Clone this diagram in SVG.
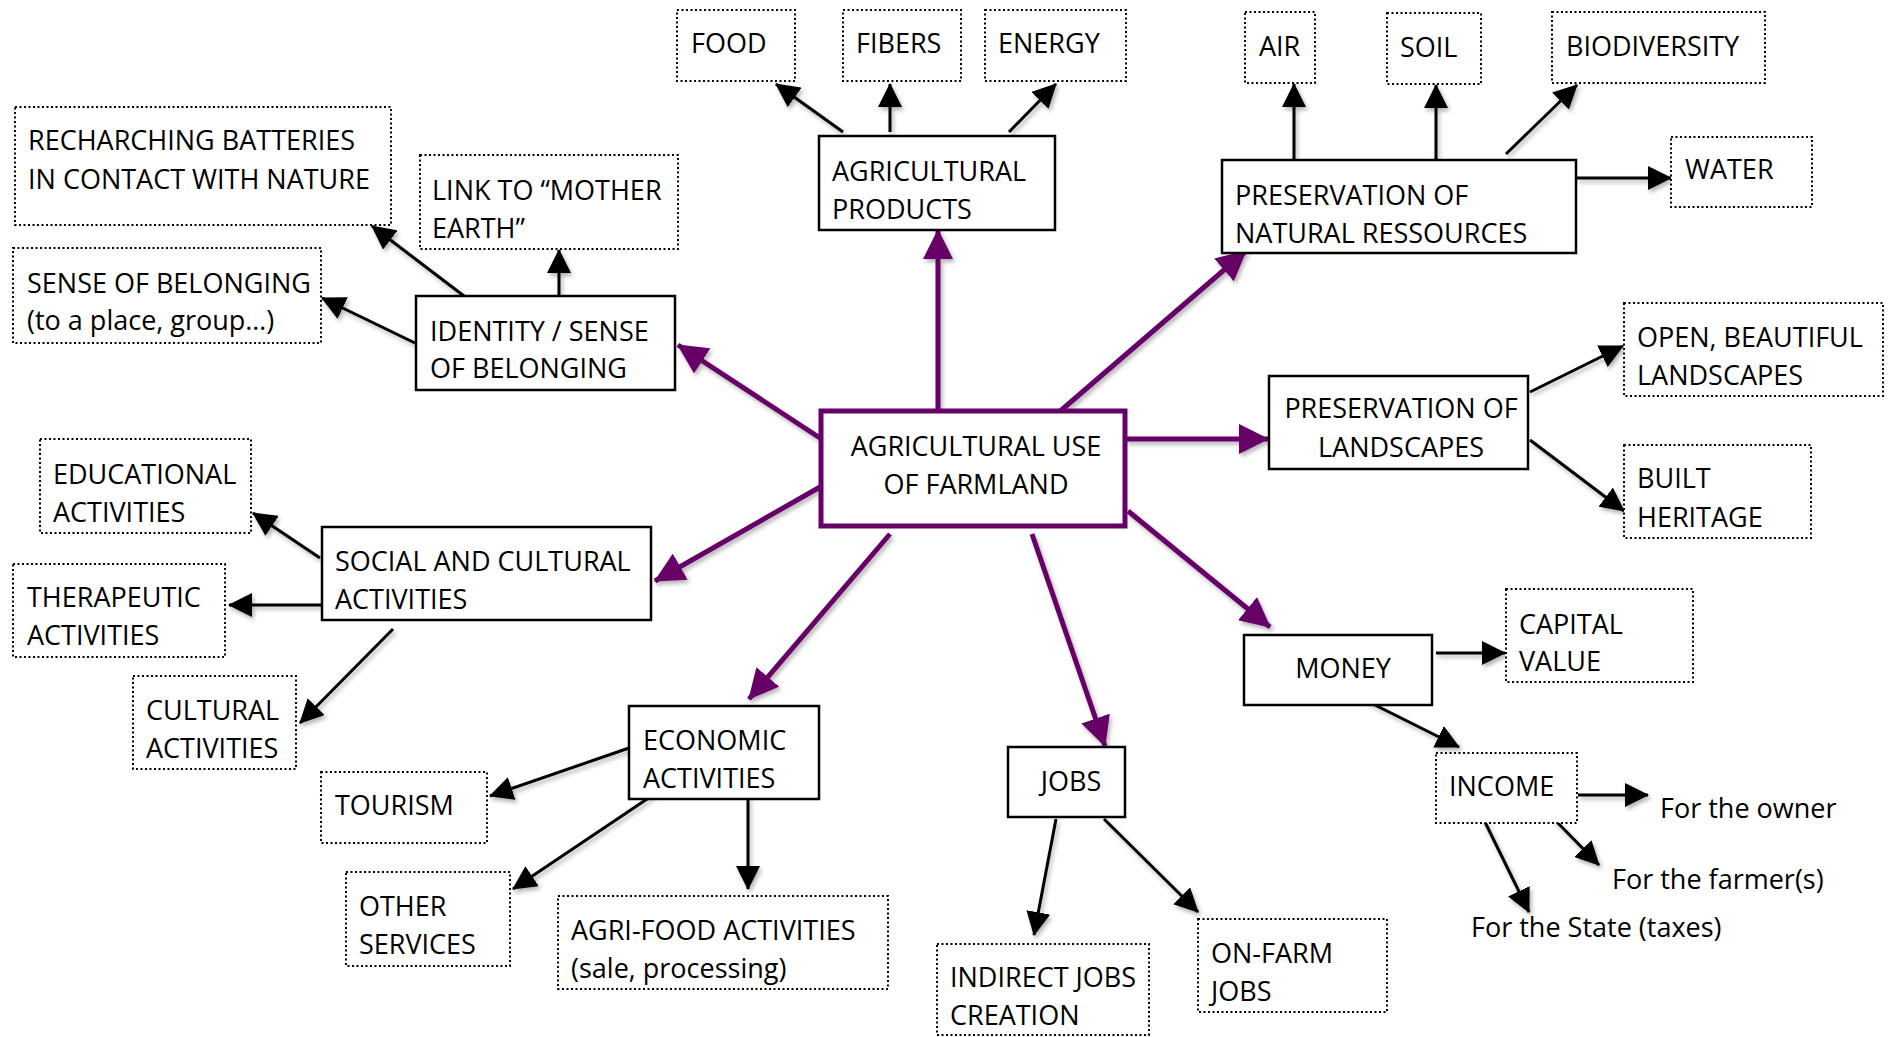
<svg xmlns="http://www.w3.org/2000/svg" width="1889" height="1037" viewBox="0 0 1889 1037">
<style>
text{font-family:"Open Sans","Liberation Sans",sans-serif;font-size:27px;fill:#000}
.s{fill:#fff;stroke:#000;stroke-width:2.5}
.d{fill:#fff;stroke:#000;stroke-width:2;stroke-dasharray:2 2.5}
.c{fill:#fff;stroke:#660066;stroke-width:5}
.k{stroke:#000;stroke-width:3;fill:none;marker-end:url(#ak)}
.p{stroke:#660066;stroke-width:5;fill:none;marker-end:url(#ap)}
.m{text-anchor:middle}
</style>
<defs>
<marker id="ak" markerUnits="userSpaceOnUse" markerWidth="24" markerHeight="24" refX="23" refY="12" orient="auto" viewBox="0 0 24 24"><path d="M0,0 L24,12 L0,24 z" fill="#000"/></marker>
<marker id="ap" markerUnits="userSpaceOnUse" markerWidth="30" markerHeight="30" refX="29" refY="15" orient="auto" viewBox="0 0 30 30"><path d="M0,0 L30,15 L0,30 z" fill="#660066"/></marker>
<filter id="sh" x="-20%" y="-20%" width="140%" height="140%"><feDropShadow dx="2" dy="3" stdDeviation="2" flood-color="#000" flood-opacity="0.3"/></filter>
</defs>
<rect width="1889" height="1037" fill="#fff"/>
<g id="connectors" filter="url(#sh)">
<line class="k" x1="843" y1="132" x2="776" y2="84"/>
<line class="k" x1="890" y1="132" x2="890" y2="84"/>
<line class="k" x1="1009" y1="132" x2="1056" y2="84"/>
<line class="k" x1="1294" y1="160" x2="1294" y2="84"/>
<line class="k" x1="1436" y1="160" x2="1436" y2="85"/>
<line class="k" x1="1506" y1="154" x2="1577" y2="85"/>
<line class="k" x1="1577" y1="178" x2="1671" y2="178"/>
<line class="k" x1="1530" y1="392" x2="1623" y2="346"/>
<line class="k" x1="1530" y1="440" x2="1624" y2="511"/>
<line class="k" x1="464" y1="296" x2="372" y2="226"/>
<line class="k" x1="559" y1="296" x2="559" y2="250"/>
<line class="k" x1="415" y1="343" x2="322" y2="298"/>
<line class="k" x1="320" y1="558" x2="253" y2="513"/>
<line class="k" x1="321" y1="605" x2="229" y2="605"/>
<line class="k" x1="393" y1="629" x2="300" y2="723"/>
<line class="k" x1="629" y1="748" x2="490" y2="796"/>
<line class="k" x1="653" y1="795" x2="513" y2="889"/>
<line class="k" x1="748" y1="797" x2="748" y2="889"/>
<line class="k" x1="1056" y1="819" x2="1034" y2="935"/>
<line class="k" x1="1104" y1="819" x2="1198" y2="912"/>
<line class="k" x1="1436" y1="653" x2="1505" y2="653"/>
<line class="k" x1="1365" y1="700" x2="1459" y2="747"/>
<line class="k" x1="1578" y1="795" x2="1648" y2="795"/>
<line class="k" x1="1553" y1="818" x2="1599" y2="865"/>
<line class="k" x1="1483" y1="818" x2="1529" y2="912"/>
<line class="p" x1="938" y1="411" x2="938" y2="230"/>
<line class="p" x1="820" y1="438" x2="678" y2="345"/>
<line class="p" x1="1058" y1="413" x2="1246" y2="251"/>
<line class="p" x1="1125" y1="439" x2="1268" y2="439"/>
<line class="p" x1="820" y1="487" x2="655" y2="581"/>
<line class="p" x1="890" y1="534" x2="749" y2="699"/>
<line class="p" x1="1032" y1="534" x2="1105" y2="746"/>
<line class="p" x1="1128" y1="511" x2="1270" y2="627"/>
</g>
<g id="center"><rect class="c" x="821" y="411" width="304" height="115"/><text class="m" x="976" y="456">AGRICULTURAL USE</text><text class="m" x="976" y="494">OF FARMLAND</text></g>
<g id="agprod"><rect class="s" x="819" y="136" width="236" height="94"/><text x="832" y="181">AGRICULTURAL</text><text x="832" y="219">PRODUCTS</text></g>
<g id="identity"><rect class="s" x="416" y="296" width="259" height="94"/><text x="430" y="341">IDENTITY / SENSE</text><text x="430" y="378">OF BELONGING</text></g>
<g id="natres"><rect class="s" x="1222" y="160" width="354" height="93"/><text x="1235" y="205">PRESERVATION OF</text><text x="1235" y="243">NATURAL RESSOURCES</text></g>
<g id="landscapes"><rect class="s" x="1269" y="376" width="259" height="93"/><text class="m" x="1401" y="418">PRESERVATION OF</text><text class="m" x="1401" y="457">LANDSCAPES</text></g>
<g id="social"><rect class="s" x="322" y="527" width="329" height="93"/><text x="335" y="571">SOCIAL AND CULTURAL</text><text x="335" y="609">ACTIVITIES</text></g>
<g id="economic"><rect class="s" x="629" y="706" width="190" height="93"/><text x="643" y="750">ECONOMIC</text><text x="643" y="788">ACTIVITIES</text></g>
<g id="jobs"><rect class="s" x="1008" y="747" width="117" height="70"/><text class="m" x="1071" y="791">JOBS</text></g>
<g id="money"><rect class="s" x="1244" y="635" width="188" height="70"/><text class="m" x="1343" y="678">MONEY</text></g>
<g id="food"><rect class="d" x="677" y="10" width="118" height="71"/><text x="691" y="53">FOOD</text></g>
<g id="fibers"><rect class="d" x="843" y="10" width="118" height="71"/><text x="856" y="53">FIBERS</text></g>
<g id="energy"><rect class="d" x="985" y="10" width="141" height="71"/><text x="998" y="53">ENERGY</text></g>
<g id="air"><rect class="d" x="1245" y="12" width="70" height="71"/><text x="1259" y="56">AIR</text></g>
<g id="soil"><rect class="d" x="1387" y="13" width="94" height="71"/><text x="1400" y="57">SOIL</text></g>
<g id="biodiversity"><rect class="d" x="1552" y="12" width="213" height="71"/><text x="1566" y="56">BIODIVERSITY</text></g>
<g id="water"><rect class="d" x="1671" y="137" width="141" height="70"/><text x="1685" y="179">WATER</text></g>
<g id="open"><rect class="d" x="1624" y="303" width="259" height="93"/><text x="1637" y="347">OPEN, BEAUTIFUL</text><text x="1637" y="385">LANDSCAPES</text></g>
<g id="built"><rect class="d" x="1624" y="445" width="187" height="93"/><text x="1637" y="488">BUILT</text><text x="1637" y="527">HERITAGE</text></g>
<g id="capital"><rect class="d" x="1506" y="589" width="187" height="93"/><text x="1519" y="634">CAPITAL</text><text x="1519" y="671">VALUE</text></g>
<g id="income"><rect class="d" x="1436" y="753" width="141" height="70"/><text x="1449" y="796">INCOME</text></g>
<g id="recharching"><rect class="d" x="15" y="107" width="376" height="118"/><text x="28" y="150">RECHARCHING BATTERIES</text><text x="28" y="189">IN CONTACT WITH NATURE</text></g>
<g id="link"><rect class="d" x="420" y="155" width="258" height="94"/><text x="432" y="200">LINK TO “MOTHER</text><text x="432" y="238">EARTH”</text></g>
<g id="sense"><rect class="d" x="13" y="248" width="308" height="95"/><text x="27" y="293">SENSE OF BELONGING</text><text x="27" y="330">(to a place, group…)</text></g>
<g id="educational"><rect class="d" x="40" y="439" width="211" height="94"/><text x="53" y="484">EDUCATIONAL</text><text x="53" y="522">ACTIVITIES</text></g>
<g id="therapeutic"><rect class="d" x="13" y="564" width="212" height="93"/><text x="27" y="607">THERAPEUTIC</text><text x="27" y="645">ACTIVITIES</text></g>
<g id="cultural"><rect class="d" x="133" y="676" width="163" height="93"/><text x="146" y="720">CULTURAL</text><text x="146" y="758">ACTIVITIES</text></g>
<g id="tourism"><rect class="d" x="321" y="772" width="166" height="71"/><text x="335" y="815">TOURISM</text></g>
<g id="other"><rect class="d" x="346" y="872" width="164" height="94"/><text x="359" y="916">OTHER</text><text x="359" y="954">SERVICES</text></g>
<g id="agrifood"><rect class="d" x="558" y="896" width="330" height="93"/><text x="571" y="940">AGRI-FOOD ACTIVITIES</text><text x="571" y="978">(sale, processing)</text></g>
<g id="indirect"><rect class="d" x="937" y="944" width="212" height="91"/><text x="950" y="987">INDIRECT JOBS</text><text x="950" y="1025">CREATION</text></g>
<g id="onfarm"><rect class="d" x="1198" y="919" width="189" height="93"/><text x="1211" y="963">ON-FARM</text><text x="1211" y="1001">JOBS</text></g>
<g id="owner"><text x="1660" y="818">For the owner</text></g>
<g id="farmer"><text x="1612" y="889">For the farmer(s)</text></g>
<g id="state"><text x="1471" y="937">For the State (taxes)</text></g>
</svg>
